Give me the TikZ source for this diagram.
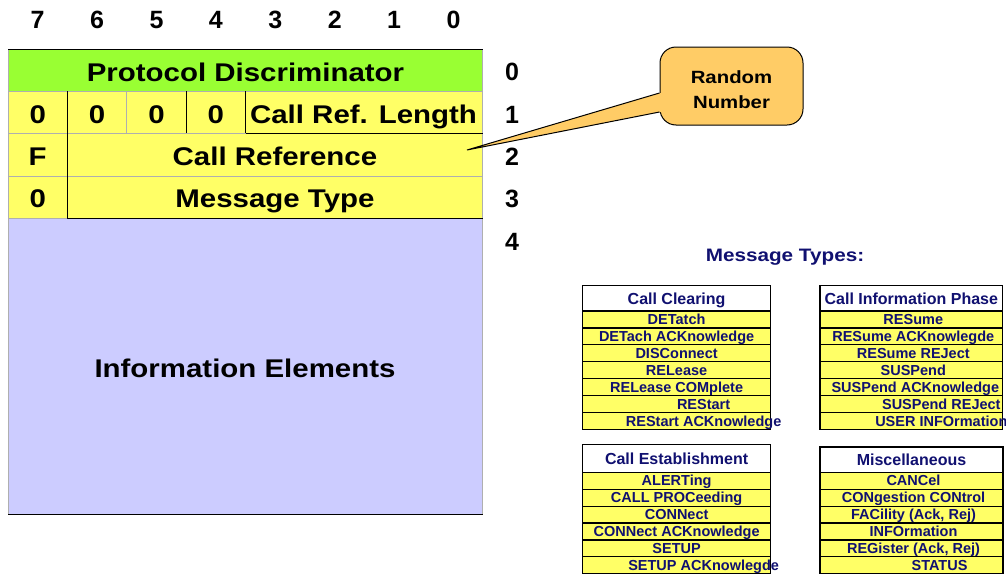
\documentclass[tikz,border=0pt]{standalone}
\usepackage{fontspec}
\setmainfont{Liberation Sans}
\newfontfamily\widefont[FakeStretch=1.15]{Liberation Sans}
\usetikzlibrary{calc}

\definecolor{pdgreen}{RGB}{153,255,51}
\definecolor{fieldyellow}{RGB}{255,255,102}
\definecolor{ielav}{RGB}{204,204,255}
\definecolor{calloutorange}{RGB}{255,204,102}
\definecolor{mtnavy}{RGB}{16,16,112}
\definecolor{gridgray}{RGB}{175,175,175}

\tikzset{
  bitnum/.style={font=\bfseries\fontsize{25}{28}\selectfont, inner sep=0pt, text height=17.9pt, text depth=0pt},
  field/.style={font=\widefont\bfseries\fontsize{25.6}{28}\selectfont, inner sep=0pt, text height=18.3pt, text depth=0pt},
  mthead/.style={draw, line width=1.5pt, fill=white, minimum height=25.5pt, inner sep=0pt,
    font=\bfseries\fontsize{16}{18}\selectfont, text=mtnavy, text height=11.5pt, text depth=0pt},
  mtcell/.style={draw, line width=1.2pt, fill=fieldyellow, minimum height=16.9pt, inner sep=0pt},
  mttext/.style={font=\bfseries\fontsize{14.5}{16}\selectfont, text=mtnavy, inner sep=0pt, text height=10.4pt, text depth=0pt},
}

\begin{document}
\begin{tikzpicture}[x=1pt, y=-1pt]
  \useasboundingbox (0,0) rectangle (1006,573);

  % header fields
  \fill[pdgreen] (8,49.5) rectangle (482.5,91);
  \fill[fieldyellow] (8,91) rectangle (482.5,218);
  \fill[ielav] (8,218) rectangle (482.5,514);
  \draw[gridgray, line width=0.8pt] (8,49.5) -- (8,514) (482.5,49.5) -- (482.5,514)
    (8,91) -- (482.5,91) (8,133) -- (245.6,133) (8,176) -- (482.5,176)
    (8,218) -- (67.4,218) (126.8,91) -- (126.8,133);
  \draw[line width=1pt] (8,49.5) -- (482.5,49.5) (67.4,91) -- (67.4,218)
    (186.2,91) -- (186.2,133) (245.6,91) -- (245.6,133) (245.6,133) -- (482.5,133)
    (67.4,218) -- (482.5,218) (8,514) -- (482.5,514);

  \foreach \b in {0,...,7}
    \node[bitnum] (bit-\b) at ({37.7+59.4*(7-\b)},20) {\b};
  \foreach \r in {0,...,4}
    \node[bitnum] (oct-\r) at (512,{72+42.3*\r}) {\r};

  \node[field] (pd) at (245.5,72.5) {Protocol Discriminator};
  \foreach \x [count=\i] in {37.7,97.1,156.5,215.9}
    \node[field] (zero-\i) at (\x,114) {0};
  \node[field] (crl) at (363.5,114) {Call Ref. Length};
  \node[field] (flag) at (37.7,156.3) {F};
  \node[field] (cref) at (275,156.3) {Call Reference};
  \node[field] (mtz) at (37.7,198.8) {0};
  \node[field] (mtype) at (275,198.8) {Message Type};
  \node[field] (ie) at (245,368) {Information Elements};

  % callout
  \node[draw, line width=1pt, fill=calloutorange, rounded corners=16pt, minimum width=143pt,
    minimum height=78pt] (rnd) at (731.5,86) {};
  \node[align=center, font=\widefont\bfseries\fontsize{17.7}{25}\selectfont]
    (rndtxt) at ($(rnd)+(0,3.5)$) {Random\\Number};
  \coordinate (tip) at (467,150);
  \fill[calloutorange] ($(rnd.west)+(0,7)$) -- (tip) -- ($(rnd.west)+(0,26)$)
    -- ($(rnd.west)+(3,26)$) -- ($(rnd.west)+(3,7)$) -- cycle;
  \draw[line width=1pt] ($(rnd.west)+(0,7)$) -- (tip) -- ($(rnd.west)+(0,26)$);

  \node[font=\widefont\bfseries\fontsize{18}{20}\selectfont, text=mtnavy, inner sep=0pt,
    text height=12.9pt, text depth=0pt] (mtitle) at (785,255.5) {Message Types:};

  % Call Clearing
  \node[mthead, minimum width=188pt] (clr) at (676.6,298.4) {Call Clearing};
  \foreach \txt/\dx [count=\i] in {DETatch/0, DETach ACKnowledge/0, DISConnect/0, RELease/0,
      RELease COMplete/0, REStart/27, REStart ACKnowledge/27}{
    \node[mtcell, minimum width=188pt] (clr-\i) at (676.6,{311+16.9*(\i-0.5)}) {};
    \node[mttext, xshift=\dx] (clr-t\i) at (clr-\i) {\txt};
  }

  % Call Information Phase
  \node[mthead, minimum width=182.5pt] (cip) at (911.3,298.4) {Call Information Phase};
  \foreach \txt/\dx [count=\i] in {RESume/2, RESume ACKnowlegde/2, RESume REJect/2, SUSPend/2,
      SUSPend ACKnowledge/4, SUSPend REJect/30, USER INFOrmation/30}{
    \node[mtcell, minimum width=182.5pt] (cip-\i) at (911.3,{311+16.9*(\i-0.5)}) {};
    \node[mttext, xshift=\dx] (cip-t\i) at (cip-\i) {\txt};
  }

  % Call Establishment
  \node[mthead, minimum width=188pt, minimum height=27.8pt] (est) at (676.6,458.4) {Call Establishment};
  \foreach \txt/\dx [count=\i] in {ALERTing/0, CALL PROCeeding/0, CONNect/0,
      CONNect ACKnowledge/0, SETUP/0, SETUP ACKnowlegde/27}{
    \node[mtcell, minimum width=188pt] (est-\i) at (676.6,{472.3+16.9*(\i-0.5)}) {};
    \node[mttext, xshift=\dx] (est-t\i) at (est-\i) {\txt};
  }

  % Miscellaneous
  \node[mthead, minimum width=183pt] (misc) at (911.5,459.5) {Miscellaneous};
  \foreach \txt/\dx [count=\i] in {CANCel/2, CONgestion CONtrol/2, {FACility (Ack, Rej)}/2,
      INFOrmation/2, {REGister (Ack, Rej)}/2, STATUS/28}{
    \node[mtcell, minimum width=183pt] (misc-\i) at (911.5,{472.3+16.9*(\i-0.5)}) {};
    \node[mttext, xshift=\dx] (misc-t\i) at (misc-\i) {\txt};
  }
\end{tikzpicture}
\end{document}
